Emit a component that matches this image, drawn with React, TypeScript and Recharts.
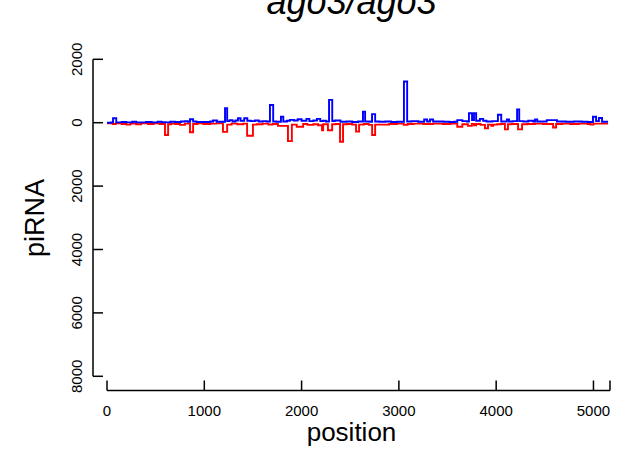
import { ComposedChart, Line, XAxis, YAxis, ReferenceLine, Customized } from 'recharts';

// sense (plus strand) coverage, step breakpoints
const plusPos = [0, 40, 62, 95, 150, 200, 260, 300, 400, 460, 520, 560, 600, 650, 700, 760, 800, 830, 853, 885, 920, 1000, 1060, 1090, 1130, 1213, 1235, 1260, 1290, 1320, 1346, 1372, 1410, 1442, 1480, 1520, 1560, 1600, 1640, 1675, 1708, 1740, 1788, 1812, 1850, 1880, 1920, 1960, 2000, 2050, 2080, 2120, 2158, 2192, 2220, 2250, 2282, 2315, 2340, 2400, 2460, 2520, 2580, 2631, 2653, 2700, 2724, 2756, 2800, 2860, 2920, 2980, 3052, 3085, 3130, 3200, 3260, 3290, 3320, 3352, 3400, 3460, 3520, 3570, 3600, 3652, 3700, 3720, 3752, 3772, 3794, 3833, 3866, 3900, 3960, 4018, 4052, 4110, 4132, 4170, 4215, 4237, 4280, 4330, 4380, 4400, 4422, 4480, 4520, 4625, 4650, 4720, 4800, 4880, 4940, 4995, 5027, 5056, 5088, 5150];
const plusVal = [0, 10, 140, 10, 20, 10, 30, 10, 20, 10, 30, 15, 10, 30, 20, 40, 50, 30, 110, 40, 20, 20, 40, 70, 30, 460, 50, 80, 40, 70, 140, 60, 140, 60, 50, 70, 40, 50, 40, 560, 40, 30, 190, 40, 60, 90, 70, 110, 60, 120, 50, 70, 120, 50, 60, 40, 720, 50, 70, 30, 40, 20, 40, 350, 40, 30, 270, 40, 30, 40, 20, 30, 1300, 40, 50, 30, 100, 40, 100, 40, 40, 30, 20, 30, 80, 50, 40, 300, 80, 300, 60, 120, 60, 40, 50, 250, 40, 100, 40, 50, 420, 50, 40, 60, 40, 100, 40, 40, 80, 40, 40, 30, 40, 30, 20, 190, 50, 150, 30, 30];

// antisense (minus strand) coverage, step breakpoints
const minusPos = [0, 60, 90, 150, 200, 240, 300, 350, 420, 480, 540, 596, 628, 660, 700, 750, 800, 853, 885, 930, 990, 1060, 1120, 1192, 1235, 1280, 1340, 1400, 1440, 1500, 1540, 1600, 1660, 1700, 1757, 1860, 1900, 1950, 1984, 2016, 2060, 2120, 2170, 2210, 2222, 2271, 2314, 2350, 2395, 2426, 2470, 2520, 2560, 2591, 2640, 2690, 2725, 2756, 2800, 2900, 2980, 3050, 3090, 3150, 3250, 3350, 3450, 3530, 3600, 3652, 3710, 3750, 3772, 3794, 3840, 3885, 3916, 3950, 3970, 4010, 4050, 4090, 4121, 4160, 4225, 4266, 4320, 4400, 4480, 4585, 4616, 4680, 4760, 4850, 4940, 4970, 5000, 5060, 5150];
const minusVal = [-20, -40, -20, -40, -60, -30, -50, -20, -40, -20, -40, -390, -50, -30, -40, -70, -30, -300, -40, -20, -40, -30, -20, -290, -60, -30, -50, -30, -410, -60, -50, -30, -60, -40, -100, -580, -60, -130, -130, -40, -70, -50, -80, -240, -50, -240, -50, -40, -600, -50, -40, -60, -280, -60, -40, -70, -390, -60, -60, -40, -30, -70, -40, -30, -40, -30, -40, -30, -130, -50, -100, -40, -80, -40, -70, -180, -60, -100, -60, -50, -40, -210, -50, -40, -210, -50, -40, -30, -40, -150, -40, -30, -40, -30, -40, -60, -30, -30, -30];

const xTicks = [0, 1000, 2000, 3000, 4000, 5000, 5170];
const yTicks = [2000, 0, -2000, -4000, -6000, -8000];

const plusData = plusPos.map((p, i) => ({ pos: p, v: plusVal[i] }));
const minusData = minusPos.map((p, i) => ({ pos: p, v: minusVal[i] }));

const FONT = '"Liberation Sans", Arial, Helvetica, sans-serif';

const XTick = ({ x, y, payload }: any) => {
  const v = payload.value;
  return (
    <g>
      <line x1={x} x2={x} y1={y} y2={y - 10} stroke="#000" strokeWidth={1.5} />
      {v <= 5000 && (
        <text x={x} y={y + 25.5} textAnchor="middle" fontSize={15} fontFamily={FONT} fill="#000">
          {v}
        </text>
      )}
    </g>
  );
};

const YTick = ({ x, y, payload }: any) => (
  <g>
    <line x1={x} x2={x + 10} y1={y} y2={y} stroke="#000" strokeWidth={1.5} />
    <text
      transform={`translate(${x - 11},${y}) rotate(-90)`}
      textAnchor="middle"
      fontSize={15}
      fontFamily={FONT}
      fill="#000"
    >
      {Math.abs(payload.value)}
    </text>
  </g>
);

const Titles = () => (
  <g fontFamily={FONT} fill="#000">
    <text x={351.5} y={14} textAnchor="middle" fontSize={36} fontStyle="italic">
      ago3/ago3
    </text>
    <text x={351.5} y={441} textAnchor="middle" fontSize={26}>
      position
    </text>
    <text transform="translate(44,218) rotate(-90)" textAnchor="middle" fontSize={27}>
      piRNA
    </text>
  </g>
);

export default function App() {
  return (
    <div style={{ position: 'absolute', left: 0, top: 0, background: '#fff' }}>
      <ComposedChart
        width={620}
        height={451}
        margin={{ top: 59.3, right: 10, bottom: 20.5, left: 33 }}
      >
        <XAxis
          dataKey="pos"
          type="number"
          domain={[-144, 5170]}
          allowDataOverflow
          ticks={xTicks}
          interval={0}
          height={40}
          axisLine={false}
          tickLine={false}
          tickSize={0}
          tickMargin={0}
          tick={<XTick />}
        />
        <YAxis
          type="number"
          domain={[-8448, 2000]}
          allowDataOverflow
          ticks={yTicks}
          interval={0}
          width={60}
          axisLine={false}
          tickLine={false}
          tickSize={0}
          tickMargin={0}
          tick={<YTick />}
        />
        <ReferenceLine
          segment={[{ x: 0, y: -8448 }, { x: 5170, y: -8448 }]}
          stroke="#000"
          strokeWidth={1.5}
          ifOverflow="visible"
        />
        <ReferenceLine
          segment={[{ x: -144, y: -8000 }, { x: -144, y: 2000 }]}
          stroke="#000"
          strokeWidth={1.5}
          ifOverflow="visible"
        />
        <Line
          data={minusData}
          dataKey="v"
          type="stepAfter"
          stroke="#ff0000"
          strokeWidth={1.9}
          dot={false}
          isAnimationActive={false}
        />
        <Line
          data={plusData}
          dataKey="v"
          type="stepAfter"
          stroke="#0000ff"
          strokeWidth={1.9}
          dot={false}
          isAnimationActive={false}
        />
        <Customized component={Titles} />
      </ComposedChart>
    </div>
  );
}
